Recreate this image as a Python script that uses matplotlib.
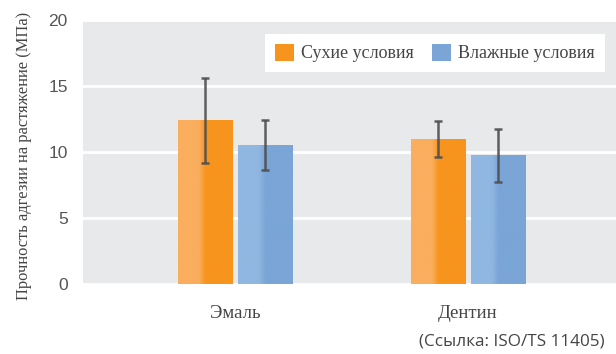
import numpy as np
import matplotlib.pyplot as plt
from matplotlib.colors import LinearSegmentedColormap
from matplotlib.patches import Patch

# прочность адгезии, МПа
categories = ['Эмаль', 'Дентин']
dry = [12.4, 11.0]
dry_err = [3.2, 1.35]
wet = [10.5, 9.75]
wet_err = [1.9, 2.0]
series_names = ['Сухие условия', 'Влажные условия']

text_color = '#454545'
orange_dark, orange_light = '#F7941D', '#FAAE5E'
blue_dark, blue_light = '#7AA5D6', '#90B7E1'

fig = plt.figure(figsize=(6.16, 3.54), dpi=100)
ax = fig.add_axes([83 / 616, 1 - 284 / 354, 533 / 616, 264 / 354])
ax.set_facecolor('#E8E9EB')

x = np.arange(len(categories))
w = 0.232
off = 0.129


def gradient_bars(bars, light, dark):
    # левая половина светлее, правая — насыщенный цвет
    cmap = LinearSegmentedColormap.from_list(
        'g', [(0, light), (0.38, light), (0.5, dark), (1, dark)])
    grad = np.linspace(0, 1, 64).reshape(1, -1)
    for b in bars:
        x0, y0 = b.get_x(), b.get_y()
        im = ax.imshow(grad, cmap=cmap, aspect='auto',
                       extent=[x0, x0 + b.get_width(), y0, y0 + b.get_height()],
                       zorder=2, interpolation='bicubic')
        im.set_clip_path(b)


b1 = ax.bar(x - off, dry, w, color=orange_dark, zorder=2, linewidth=0)
b2 = ax.bar(x + off, wet, w, color=blue_dark, zorder=2, linewidth=0)
gradient_bars(b1, orange_light, orange_dark)
gradient_bars(b2, blue_light, blue_dark)

ax.errorbar(x - off, dry, yerr=dry_err, fmt='none', ecolor='#4F4F4F',
            elinewidth=1.8, capsize=3, capthick=1.8, zorder=3, alpha=0.9)
ax.errorbar(x + off, wet, yerr=wet_err, fmt='none', ecolor='#4F4F4F',
            elinewidth=1.8, capsize=3, capthick=1.8, zorder=3, alpha=0.9)

ax.set_xlim(-0.652, 1.635)
ax.set_ylim(0, 20)
ax.set_yticks([0, 5, 10, 15, 20])
ax.yaxis.grid(True, color='white', linewidth=2)
ax.set_axisbelow(True)
for s in ax.spines.values():
    s.set_visible(False)

ax.set_xticks(x)
ax.set_xticklabels(categories, family='Liberation Serif', fontsize=13.5,
                   color=text_color)
ax.tick_params(axis='x', length=0, pad=15)
ax.tick_params(axis='y', length=0, pad=11, labelsize=12.5, labelcolor='#555555')
for lbl in ax.get_yticklabels():
    lbl.set_family('Liberation Sans')

fig.text(24 / 616, 1 - 156 / 354, 'Прочность адгезии на растяжение (МПа)',
         rotation=90, ha='center', va='center', family='Liberation Serif',
         fontsize=11.9, color=text_color)

handles = [Patch(facecolor=orange_dark, edgecolor='none'),
           Patch(facecolor=blue_dark, edgecolor='none')]
leg = ax.legend(handles, series_names, loc='upper right',
                bbox_to_anchor=((605 - 83) / 533, 1 - 14 / 264),
                ncol=2, frameon=True, fancybox=False, framealpha=1,
                prop={'family': 'Liberation Serif', 'size': 13},
                handlelength=1.05, handleheight=1.05, handletextpad=0.4,
                columnspacing=1.0, borderpad=0.55, borderaxespad=0)
leg.get_frame().set_facecolor('white')
leg.get_frame().set_edgecolor('none')
for t in leg.get_texts():
    t.set_color(text_color)

fig.text(605 / 616, 1 - 342 / 354, '(Ссылка: ISO/TS 11405)', ha='right',
         va='center', family='Open Sans', fontsize=12.3, color=text_color)

fig.savefig('out.png', dpi=100)
